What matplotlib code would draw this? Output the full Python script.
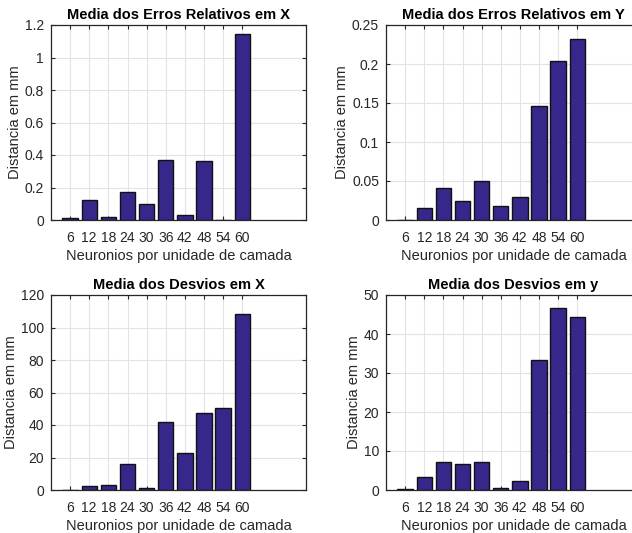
import numpy as np
import matplotlib.pyplot as plt

plt.rcParams['font.family'] = ['Liberation Sans', 'DejaVu Sans']

# Dados
neuronios = [6, 12, 18, 24, 30, 36, 42, 48, 54, 60]
erro_rel_x = [0.015, 0.126, 0.021, 0.172, 0.098, 0.371, 0.031, 0.361, 0.002, 1.147]
erro_rel_y = [0.0005, 0.015, 0.0415, 0.0248, 0.050, 0.018, 0.0295, 0.146, 0.204, 0.2325]
desvio_x = [0.3, 2.5, 2.9, 15.8, 1.4, 41.8, 22.8, 47.2, 50.5, 108.5]
desvio_y = [0.2, 3.4, 7.1, 6.6, 7.2, 0.4, 2.4, 33.4, 46.6, 44.4]

titulos = ['Media dos Erros Relativos em X', 'Media dos Erros Relativos em Y',
           'Media dos Desvios em X', 'Media dos Desvios em y']
dados = [erro_rel_x, erro_rel_y, desvio_x, desvio_y]
ylims = [(0, 1.2), (0, 0.25), (0, 120), (0, 50)]
yticks = [np.arange(0, 1.21, 0.2), np.arange(0, 0.251, 0.05),
          np.arange(0, 121, 20), np.arange(0, 51, 10)]
ytick_labels = [['0', '0.2', '0.4', '0.6', '0.8', '1', '1.2'],
                ['0', '0.05', '0.1', '0.15', '0.2', '0.25'],
                ['0', '20', '40', '60', '80', '100', '120'],
                ['0', '10', '20', '30', '40', '50']]

fig = plt.figure(figsize=(6.32, 5.33), dpi=100)
largura, altura = 255 / 632, 195 / 533
posicoes = [(51 / 632, 1 - 220 / 533), (386 / 632, 1 - 220 / 533),
            (51 / 632, 1 - 490 / 533), (386 / 632, 1 - 490 / 533)]

cor_eixo = '#262626'
for i in range(4):
    ax = fig.add_axes([posicoes[i][0], posicoes[i][1], largura, altura])
    ax.bar(neuronios, dados[i], width=4.8, color='#35288a', edgecolor='#111111',
           linewidth=1.0, zorder=3)
    ax.set_xlim(0, 80)
    ax.set_ylim(*ylims[i])
    ax.set_xticks(neuronios)
    ax.set_yticks(yticks[i])
    ax.set_yticklabels(ytick_labels[i])
    ax.grid(True, color='#e3e3e3', linewidth=0.8, zorder=0)
    ax.tick_params(direction='in', top=True, right=True, labelsize=10,
                   colors=cor_eixo, length=3, pad=5)
    ax.tick_params(axis='x', pad=8)
    for s in ax.spines.values():
        s.set_color(cor_eixo)
        s.set_linewidth(0.9)
    ax.set_title(titulos[i], fontsize=10.5, fontweight='bold', pad=4)
    ax.set_xlabel('Neuronios por unidade de camada', fontsize=10.5,
                  color=cor_eixo, labelpad=3)
    ax.set_ylabel('Distancia em mm', fontsize=10.5, color=cor_eixo, labelpad=2)

plt.savefig('out.png', dpi=100)
